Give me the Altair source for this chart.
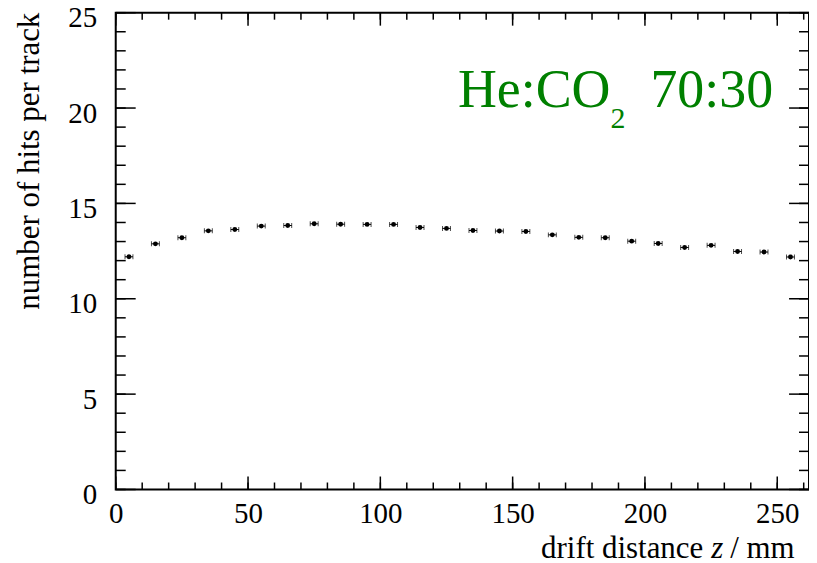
import altair as alt
import pandas as pd

# --- data ---
z_mm = [5, 15, 25, 35, 45, 55, 65, 75, 85, 95, 105, 115, 125,
        135, 145, 155, 165, 175, 185, 195, 205, 215, 225, 235, 245, 255]
hits = [12.20, 12.88, 13.20, 13.56, 13.63, 13.81, 13.84, 13.93, 13.91, 13.90, 13.90, 13.74, 13.69,
        13.58, 13.55, 13.53, 13.35, 13.22, 13.20, 13.02, 12.90, 12.69, 12.80, 12.48, 12.45, 12.19]
x_err = 1.5

x_major = [0, 50, 100, 150, 200, 250]
x_minor = [v for v in range(0, 261, 10)]
y_major = [0, 5, 10, 15, 20, 25]
y_minor = list(range(0, 26))

X_MAX = 262
W, H = 695, 478
FONT = "Liberation Serif"

df = pd.DataFrame({"z": z_mm, "n": hits})
df["lo"] = df["z"] - x_err
df["hi"] = df["z"] + x_err

xs = alt.Scale(domain=[0, X_MAX], nice=False, zero=False)
ys = alt.Scale(domain=[0, 25], nice=False, zero=False)

x_axis = alt.Axis(values=x_major, title=None, ticks=False, tickSize=0, domain=False, grid=False,
                  labelFont=FONT, labelFontSize=29, labelColor="black", labelBaseline="alphabetic",
                  labelPadding=33, labelFlush=False, labelOverlap=False)
y_axis = alt.Axis(values=y_major, title=None, ticks=False, tickSize=0, domain=False, grid=False,
                  labelFont=FONT, labelFontSize=29, labelColor="black", labelBaseline="alphabetic",
                  labelOffset=14, labelPadding=19, labelFlush=False, labelOverlap=False)

base = alt.Chart(df)

errbar = base.mark_rule(color="black", strokeWidth=1).encode(
    x=alt.X("lo:Q", scale=xs, axis=x_axis), x2="hi:Q",
    y=alt.Y("n:Q", scale=ys, axis=y_axis))
cap_lo = base.mark_tick(color="black", orient="vertical", size=5, thickness=1).encode(
    x=alt.X("lo:Q", scale=xs), y=alt.Y("n:Q", scale=ys))
cap_hi = base.mark_tick(color="black", orient="vertical", size=5, thickness=1).encode(
    x=alt.X("hi:Q", scale=xs), y=alt.Y("n:Q", scale=ys))
pts = base.mark_point(filled=True, shape="circle", size=24, color="black", opacity=1).encode(
    x=alt.X("z:Q", scale=xs), y=alt.Y("n:Q", scale=ys))

# inward ticks (ROOT style) on all four sides
xmaj = pd.DataFrame({"t": x_major})
xmin = pd.DataFrame({"t": x_minor})
ymaj = pd.DataFrame({"t": y_major})
ymin = pd.DataFrame({"t": y_minor})

def xt(d, length):
    c = alt.Chart(d)
    b = c.mark_rule(color="black", strokeWidth=1.5).encode(
        x=alt.X("t:Q", scale=xs), y=alt.value(H), y2=alt.value(H - length))
    t = c.mark_rule(color="black", strokeWidth=1.5).encode(
        x=alt.X("t:Q", scale=xs), y=alt.value(0), y2=alt.value(length))
    return [b, t]

def yt(d, length):
    c = alt.Chart(d)
    l = c.mark_rule(color="black", strokeWidth=1.5).encode(
        y=alt.Y("t:Q", scale=ys), x=alt.value(0), x2=alt.value(length))
    r = c.mark_rule(color="black", strokeWidth=1.5).encode(
        y=alt.Y("t:Q", scale=ys), x=alt.value(W), x2=alt.value(W - length))
    return [l, r]

ticks = xt(xmaj, 13) + xt(xmin, 7) + yt(ymaj, 20) + yt(ymin, 10)

# annotation text
def txt(s, x, y, size=31, color="black", align="left", angle=0, style="normal"):
    return alt.Chart(pd.DataFrame({"s": [s]})).mark_text(
        font=FONT, fontSize=size, color=color, align=align, baseline="alphabetic",
        angle=angle, fontStyle=style).encode(text="s:N", x=alt.value(x), y=alt.value(y))

green = "#008000"
labels = [
    txt("He:CO", 343, 95, size=54, color=green),
    txt("2", 496, 116, size=30, color=green),
    txt("70:30", 536, 95, size=54, color=green),
    txt("drift distance", 589, 69 + H, align="right"),
    txt("z", 597, 69 + H, style="italic"),
    txt("/ mm", 616, 69 + H),
    txt("number of hits per track", -77, 0, align="right", angle=270),
]

chart = alt.layer(errbar, cap_lo, cap_hi, pts, *ticks, *labels).properties(
    width=W, height=H,
    autosize=alt.AutoSizeParams(type="none"),
    padding={"left": 108, "top": 4, "right": 0, "bottom": 72},
    background="white",
).configure_view(stroke="black", strokeWidth=2)

chart.save("out.html", embed_options={"renderer": "svg", "actions": False})
